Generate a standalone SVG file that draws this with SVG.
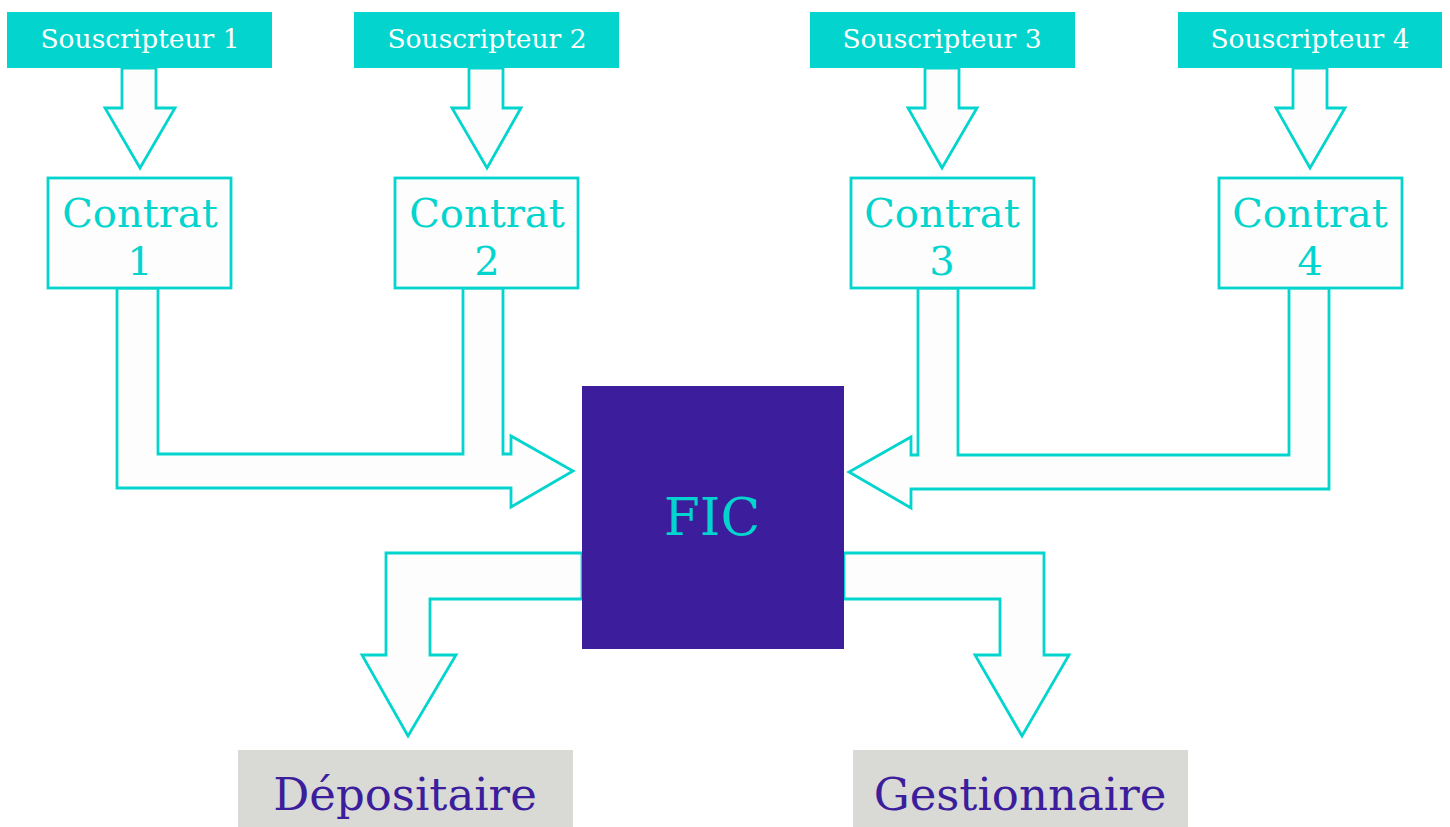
<svg xmlns="http://www.w3.org/2000/svg" width="1450" height="827" viewBox="0 0 1450 827">
<style>
.sub{fill:#03D5CE}
.subt{fill:#ffffff;font-family:"DejaVu Serif","Liberation Serif",serif;font-size:26.5px;text-anchor:middle}
.ct{fill:#fdfdfd;stroke:#03D5CE;stroke-width:2.8}
.ctt{fill:#03D5CE;font-family:"DejaVu Serif","Liberation Serif",serif;font-size:40px;text-anchor:middle}
.arr{fill:#fdfdfd;stroke:#03D5CE;stroke-width:2.8;stroke-linejoin:miter}
.out{fill:#D9D9D6}
.outt{fill:#3C1E9C;font-family:"DejaVu Serif","Liberation Serif",serif;font-size:45px;text-anchor:middle}
</style>
<rect width="1450" height="827" fill="#ffffff"/>
<g id="connectors">
<polygon class="arr" points="122,68 122,108 105,108 140,168 175,108 156,108 156,68"/>
<polygon class="arr" points="469,68 469,108 452,108 487,168 521,108 503,108 503,68"/>
<polygon class="arr" points="925,68 925,108 908,108 942,168 977,108 959,108 959,68"/>
<polygon class="arr" points="1293,68 1293,108 1276,108 1310,168 1345,108 1327,108 1327,68"/>
<polygon class="arr" points="117,288 117,488 511,488 511,507 573,471 511,436 511,454 503,454 503,288 463,288 463,454 158,454 158,288"/>
<polygon class="arr" points="918,288 918,455 911,455 911,437 849,472 911,508 911,489 1329,489 1329,288 1289,288 1289,455 958,455 958,288"/>
<polygon class="arr" points="582,553 386,553 386,655 362,655 408,736 456,655 430,655 430,599 582,599"/>
<polygon class="arr" points="844,553 1044,553 1044,655 1069,655 1022,736 975,655 1000,655 1000,599 844,599"/>
</g>
<g id="souscripteur1"><rect class="sub" x="7" y="12" width="265" height="56"/><text class="subt" x="140" y="48">Souscripteur 1</text></g>
<g id="souscripteur2"><rect class="sub" x="354" y="12" width="265" height="56"/><text class="subt" x="487" y="48">Souscripteur 2</text></g>
<g id="souscripteur3"><rect class="sub" x="810" y="12" width="265" height="56"/><text class="subt" x="942" y="48">Souscripteur 3</text></g>
<g id="souscripteur4"><rect class="sub" x="1178" y="12" width="264" height="56"/><text class="subt" x="1310" y="48">Souscripteur 4</text></g>
<g id="contrat1"><rect class="ct" x="48" y="178" width="183" height="110"/><text class="ctt" x="140" y="227">Contrat</text><text class="ctt" x="140" y="275">1</text></g>
<g id="contrat2"><rect class="ct" x="395" y="178" width="183" height="110"/><text class="ctt" x="487" y="227">Contrat</text><text class="ctt" x="487" y="275">2</text></g>
<g id="contrat3"><rect class="ct" x="851" y="178" width="183" height="110"/><text class="ctt" x="942" y="227">Contrat</text><text class="ctt" x="942" y="275">3</text></g>
<g id="contrat4"><rect class="ct" x="1219" y="178" width="183" height="110"/><text class="ctt" x="1310" y="227">Contrat</text><text class="ctt" x="1310" y="275">4</text></g>
<g id="fic"><rect x="582" y="386" width="262" height="263" fill="#3C1E9C"/><text x="712" y="535" fill="#03D5CE" font-family="DejaVu Serif, Liberation Serif, serif" font-size="52" text-anchor="middle">FIC</text></g>
<g id="depositaire"><rect class="out" x="238" y="750" width="335" height="77"/><text class="outt" x="405" y="810">Dépositaire</text></g>
<g id="gestionnaire"><rect class="out" x="853" y="750" width="335" height="77"/><text class="outt" x="1020" y="810">Gestionnaire</text></g>
</svg>
